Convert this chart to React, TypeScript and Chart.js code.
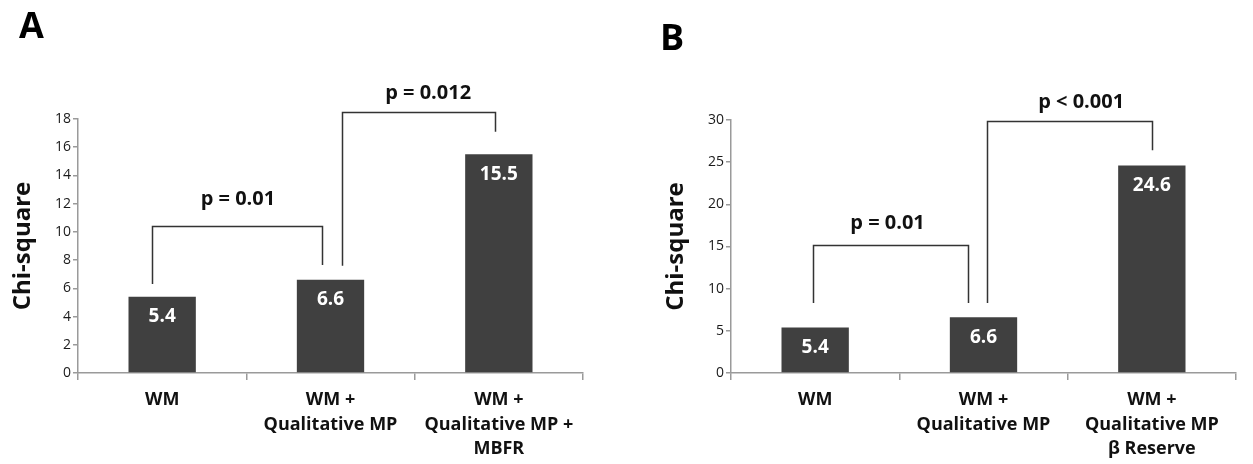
import React, { useEffect, useRef } from "react";
import { Chart, registerables } from "chart.js";

Chart.register(...registerables);

// ---- Data ----
const categoriesA: string[][] = [["WM"], ["WM +", "Qualitative MP"], ["WM +", "Qualitative MP +", "MBFR"]];
const valuesA = [5.4, 6.6, 15.5];
const yMaxA = 18;
const yStepA = 2;

const categoriesB: string[][] = [["WM"], ["WM +", "Qualitative MP"], ["WM +", "Qualitative MP", "β Reserve"]];
const valuesB = [5.4, 6.6, 24.6];
const yMaxB = 30;
const yStepB = 5;

const yTitle = "Chi-square";

// Significance brackets: x in category units, y in chi-square units
type Bracket = { x1: number; x2: number; top: number; b1: number; b2: number; label: string; lx: number; ly: number };
const bracketsA: Bracket[] = [
  { x1: -0.06, x2: 0.95, top: 10.4, b1: 6.3, b2: 7.65, label: "p = 0.01", lx: 0.45, ly: 12.3 },
  { x1: 1.07, x2: 1.98, top: 18.5, b1: 7.6, b2: 17.1, label: "p = 0.012", lx: 1.58, ly: 19.8 },
];
const bracketsB: Bracket[] = [
  { x1: -0.01, x2: 0.905, top: 15.2, b1: 8.3, b2: 8.3, label: "p = 0.01", lx: 0.43, ly: 17.8 },
  { x1: 1.02, x2: 2.0, top: 29.9, b1: 8.3, b2: 26.4, label: "p < 0.001", lx: 1.58, ly: 32.1 },
];

const FONT = "'Open Sans', 'DejaVu Sans', sans-serif";
const BAR_COLOR = "#404040";
const AXIS_COLOR = "#9a9a9a";

function makeAnnotPlugin(brackets: Bracket[]) {
  return {
    id: "annot",
    afterDraw(chart: any) {
      const ctx = chart.ctx;
      const xs = chart.scales.x;
      const ys = chart.scales.y;
      const p0 = xs.getPixelForValue(0);
      const p1 = xs.getPixelForValue(1);
      const cw = p1 - p0;
      const px = (v: number) => p0 + v * cw;
      ctx.save();
      // value labels inside bars
      const meta = chart.getDatasetMeta(0);
      ctx.fillStyle = "#ffffff";
      ctx.font = `bold 19px ${FONT}`;
      ctx.textAlign = "center";
      ctx.textBaseline = "middle";
      meta.data.forEach((el: any, i: number) => {
        const v = chart.data.datasets[0].data[i];
        ctx.fillText(String(v), el.x, el.y + 20);
      });
      // brackets
      ctx.strokeStyle = "#333333";
      ctx.lineWidth = 1.5;
      brackets.forEach((b) => {
        const xl = Math.round(px(b.x1)) + 0.5;
        const xr = Math.round(px(b.x2)) + 0.5;
        const yt = Math.round(ys.getPixelForValue(b.top)) + 0.5;
        ctx.beginPath();
        ctx.moveTo(xl, ys.getPixelForValue(b.b1));
        ctx.lineTo(xl, yt);
        ctx.lineTo(xr, yt);
        ctx.lineTo(xr, ys.getPixelForValue(b.b2));
        ctx.stroke();
        ctx.fillStyle = "#111111";
        ctx.font = `bold 20px ${FONT}`;
        ctx.fillText(b.label, px(b.lx), ys.getPixelForValue(b.ly));
      });
      ctx.restore();
    },
  };
}

function makeConfig(
  labels: string[][],
  values: number[],
  yMax: number,
  yStep: number,
  brackets: Bracket[],
  yWidth: number,
  titlePad: number,
  padTop: number,
  padRight: number
): any {
  return {
    type: "bar",
    data: {
      labels,
      datasets: [
        {
          data: values,
          backgroundColor: BAR_COLOR,
          borderWidth: 0,
          barPercentage: 0.4,
          categoryPercentage: 1,
        },
      ],
    },
    options: {
      responsive: false,
      animation: false,
      devicePixelRatio: 1,
      layout: { padding: { left: 0, top: padTop, right: padRight, bottom: 0 } },
      plugins: { legend: { display: false }, tooltip: { enabled: false }, title: { display: false } },
      scales: {
        x: {
          grid: { display: true, drawOnChartArea: false, drawTicks: true, tickLength: 7, color: AXIS_COLOR, offset: true, lineWidth: 1.5 },
          border: { display: true, color: AXIS_COLOR, width: 1.5 },
          ticks: { color: "#111111", font: { family: FONT, size: 18, weight: "bold", lineHeight: 1.35 }, padding: 8, maxRotation: 0, autoSkip: false },
          afterFit: (s: any) => {
            s.height = 91;
          },
        },
        y: {
          min: 0,
          max: yMax,
          ticks: { stepSize: yStep, color: "#1a1a1a", font: { family: FONT, size: 14 }, padding: 2 },
          grid: { display: true, drawOnChartArea: false, drawTicks: true, tickLength: 5, color: AXIS_COLOR, lineWidth: 1.5 },
          border: { display: true, color: AXIS_COLOR, width: 1.5 },
          title: {
            display: true,
            text: yTitle,
            color: "#111111",
            font: { family: FONT, size: 24, weight: "bold", lineHeight: 1.2 },
            padding: { top: titlePad, bottom: 0 },
          },
          afterFit: (s: any) => {
            s.width = yWidth;
          },
        },
      },
    },
    plugins: [makeAnnotPlugin(brackets)],
  };
}

function Panel(props: { cfg: any; left: number; width: number }) {
  const ref = useRef<HTMLCanvasElement | null>(null);
  useEffect(() => {
    if (!ref.current) return;
    const chart = new Chart(ref.current, props.cfg);
    return () => chart.destroy();
  }, []);
  return (
    <canvas
      ref={ref}
      width={props.width}
      height={464}
      style={{ position: "absolute", left: props.left, top: 0, width: props.width, height: 464 }}
    />
  );
}

export default function App() {
  const cfgA = makeConfig(categoriesA, valuesA, yMaxA, yStepA, bracketsA, 78, 8.6, 119, 43);
  const cfgB = makeConfig(categoriesB, valuesB, yMaxB, yStepB, bracketsB, 105, 35.6, 120, 17);
  const letter: React.CSSProperties = {
    position: "absolute",
    fontFamily: FONT,
    fontWeight: 700,
    fontSize: 36,
    lineHeight: 1,
    color: "#000",
  };
  return (
    <div style={{ position: "absolute", left: 0, top: 0, width: 1253, height: 464, background: "#fff", overflow: "hidden" }}>
      <Panel cfg={cfgA} left={0} width={626} />
      <Panel cfg={cfgB} left={626} width={627} />
      <div style={{ ...letter, left: 19, top: 7 }}>A</div>
      <div style={{ ...letter, left: 660, top: 19 }}>B</div>
    </div>
  );
}
